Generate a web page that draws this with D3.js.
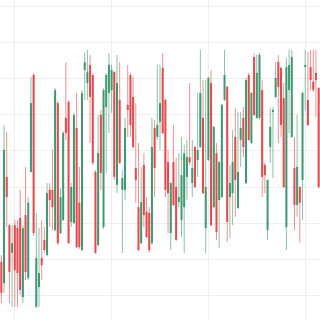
<!DOCTYPE html>
<html>
<head>
  <meta charset="utf-8">
  <title>Candlestick</title>
  <script src="https://d3js.org/d3.v7.min.js"></script>
  <style>
    body { margin: 0; background: #fff; }
    .grid-line { stroke: #efefef; stroke-width: 1; shape-rendering: crispEdges; }
  </style>
</head>
<body>
  <div id="chart"></div>

  <script>
    const openData = [29.2, 23.3, 52.8, 39.4, 31.7, 39.4, 38.6, 41.4, 19.4, 42.2, 24.7, 54.2, 81.1, 16.7, 22.2, 30.3, 35.3, 31.1, 49.2, 49.2,
      38.0, 73.3, 37.2, 40.8, 69.2, 73.6, 40.3, 40.0, 66.4, 45.6, 32.5, 82.5, 78.9, 83.9, 81.1, 54.2, 33.9, 70.0, 38.9, 72.2,
      76.1, 76.9, 81.9, 50.6, 74.2, 49.2, 49.2, 72.8, 81.1, 75.0, 55.3, 44.4, 34.4, 56.1, 43.1, 42.8, 34.4, 66.4, 63.9, 68.1,
      83.1, 74.2, 56.9, 37.2, 56.9, 50.0, 45.8, 40.8, 44.4, 52.8, 58.3, 51.1, 61.1, 57.5, 61.1, 69.2, 38.6, 57.5, 78.9, 44.4,
      59.4, 46.4, 47.2, 74.2, 77.8, 47.2, 48.3, 63.9, 44.2, 63.1, 69.2, 51.1, 81.1, 62.2, 86.1, 69.2, 69.2, 76.9, 56.1, 38.0,
      61.1, 70.8, 75.0, 84.7, 83.1, 74.7, 38.9, 76.9, 63.9, 55.3, 45.0, 50.0, 51.9, 83.3, 74.2, 83.3, 79.2, 81.7, 77.5];
    const highData = [31.1, 67.2, 65.3, 39.6, 39.4, 40.8, 40.8, 49.2, 39.4, 55.6, 47.2, 80.6, 81.7, 42.8, 38.6, 40.8, 38.9, 51.1, 51.1, 60.3,
      77.5, 73.9, 49.7, 65.6, 84.7, 74.2, 51.1, 70.6, 76.1, 55.6, 76.9, 87.5, 88.1, 86.7, 81.7, 54.7, 70.0, 71.4, 77.5, 81.7,
      87.2, 83.9, 82.2, 86.7, 84.7, 54.7, 69.2, 83.9, 81.7, 80.6, 73.3, 62.2, 55.6, 59.4, 47.2, 44.4, 69.2, 68.6, 83.9, 83.9,
      87.2, 74.5, 60.3, 51.4, 67.2, 58.1, 59.4, 63.9, 61.7, 63.1, 78.9, 63.1, 61.4, 76.1, 88.1, 79.7, 79.7, 80.6, 82.5, 67.0,
      62.2, 57.2, 73.1, 88.1, 78.1, 56.1, 65.8, 71.9, 70.8, 70.8, 72.2, 80.3, 81.7, 76.4, 87.2, 86.7, 87.2, 79.7, 56.7, 52.2,
      71.9, 72.2, 84.7, 86.7, 83.3, 78.9, 85.8, 88.1, 88.1, 63.9, 70.0, 50.3, 76.4, 88.1, 87.5, 88.1, 88.1, 88.1, 77.8];
    const lowData = [17.8, 20.6, 38.9, 17.8, 16.7, 16.7, 16.7, 20.0, 17.8, 24.2, 24.2, 53.9, 36.4, 16.4, 16.7, 24.2, 31.7, 30.8, 38.9, 38.0,
      37.8, 33.9, 36.9, 40.6, 63.1, 34.2, 38.9, 39.7, 33.1, 32.8, 32.2, 74.2, 74.2, 62.2, 56.1, 31.4, 33.3, 49.2, 38.3, 53.9,
      65.0, 70.6, 51.9, 48.3, 56.4, 31.7, 46.4, 63.9, 63.9, 60.8, 45.6, 32.2, 34.2, 38.9, 35.8, 31.7, 33.9, 47.2, 63.1, 60.3,
      64.7, 47.2, 37.2, 32.5, 44.7, 35.0, 44.4, 36.1, 31.7, 46.4, 56.1, 47.2, 49.7, 52.8, 60.8, 48.0, 31.7, 57.2, 39.1, 44.1,
      35.3, 33.1, 46.9, 73.9, 34.7, 35.8, 39.4, 41.7, 43.9, 55.6, 58.3, 50.8, 62.8, 61.9, 69.7, 68.9, 68.9, 47.2, 48.3, 35.3,
      56.7, 52.5, 74.7, 62.2, 63.9, 49.7, 32.5, 65.0, 63.6, 38.0, 41.7, 34.4, 40.8, 71.4, 66.9, 76.9, 76.4, 69.4, 49.7];
    const closeData = [20.6, 60.3, 47.2, 26.4, 34.4, 26.9, 26.1, 21.4, 38.6, 26.4, 45.6, 73.3, 37.2, 30.3, 26.1, 28.3, 32.5, 48.3, 46.4, 44.4,
      76.9, 34.4, 47.2, 65.0, 65.0, 34.4, 50.0, 70.0, 33.3, 33.3, 76.1, 84.7, 81.9, 75.0, 56.7, 31.7, 59.4, 53.9, 76.9, 81.1,
      83.9, 82.5, 52.8, 78.9, 56.7, 52.5, 66.4, 71.4, 67.2, 61.1, 51.9, 32.5, 45.8, 42.2, 36.1, 32.5, 61.1, 55.3, 67.2, 73.3,
      65.0, 49.2, 48.3, 51.1, 45.0, 35.3, 47.2, 53.3, 59.4, 58.3, 56.9, 55.3, 50.0, 60.3, 76.1, 48.3, 50.0, 80.3, 39.4, 66.7,
      37.5, 56.9, 72.8, 81.1, 40.3, 51.1, 56.9, 51.9, 54.2, 66.4, 61.1, 79.7, 63.1, 76.1, 70.0, 81.7, 86.7, 52.8, 53.3, 51.9,
      66.7, 71.4, 80.3, 77.8, 67.2, 50.0, 83.3, 83.9, 86.1, 45.0, 55.6, 45.6, 76.1, 83.9, 67.2, 79.7, 76.9, 79.7, 50.0];
    const yTicks = [20, 30, 40, 50, 60, 70, 80, 90, 100];
    const xTicks = [5, 41, 77, 113];

    const upColor = "#3d9970";
    const downColor = "#e8474b";

    const width = 320;
    const height = 320;

    const svg = d3.select("#chart")
      .append("svg")
      .attr("width", width)
      .attr("height", height);

    const xScale = d3.scaleLinear()
      .domain([-0.5, openData.length - 0.5])
      .range([0, width]);

    const yScale = d3.scaleLinear()
      .domain([13.06, 101.94])
      .range([height, 0]);

    svg.selectAll(".grid-y")
      .data(yTicks)
      .enter()
      .append("line")
      .attr("class", "grid-line")
      .attr("x1", 0)
      .attr("x2", width)
      .attr("y1", d => yScale(d))
      .attr("y2", d => yScale(d));

    svg.selectAll(".grid-x")
      .data(xTicks)
      .enter()
      .append("line")
      .attr("class", "grid-line")
      .attr("x1", d => xScale(d))
      .attr("x2", d => xScale(d))
      .attr("y1", 0)
      .attr("y2", height);

    const candles = openData.map((o, i) => ({
      i: i, open: o, high: highData[i], low: lowData[i], close: closeData[i]
    }));

    const color = d => d.close >= d.open ? upColor : downColor;

    // wicks
    svg.selectAll(".wick")
      .data(candles)
      .enter()
      .append("line")
      .attr("class", "wick")
      .attr("x1", d => xScale(d.i))
      .attr("x2", d => xScale(d.i))
      .attr("y1", d => yScale(d.high))
      .attr("y2", d => yScale(d.low))
      .attr("stroke", color)
      .attr("stroke-width", 1)
      .attr("opacity", 0.6);

    // bodies
    const bodyW = 2;
    svg.selectAll(".body")
      .data(candles)
      .enter()
      .append("rect")
      .attr("class", "body")
      .attr("x", d => xScale(d.i) - bodyW / 2)
      .attr("y", d => yScale(Math.max(d.open, d.close)))
      .attr("width", bodyW)
      .attr("height", d => Math.max(1, Math.abs(yScale(d.open) - yScale(d.close))))
      .attr("fill", color);
  </script>
</body>
</html>
